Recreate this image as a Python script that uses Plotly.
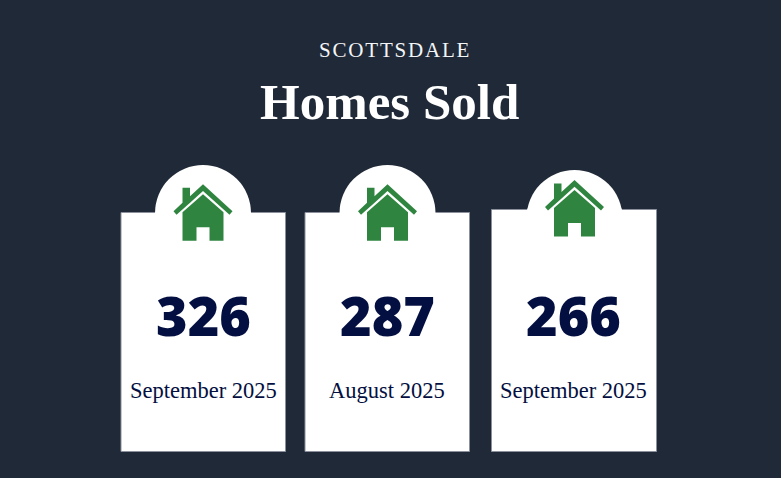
import plotly.graph_objects as go

# Data
city = "SCOTTSDALE"
title = "Homes Sold"
values = ["326", "287", "266"]
periods = ["September 2025", "August 2025", "September 2025"]

# Layout
W, H = 781, 478
BG = "#1f2937"
GREEN = "#2f8540"
NAVY = "#030f40"
cards = [
    dict(x0=121, x1=285.5, top=212.5, bottom=451.5, cx=203, vx=203, vy=314.5, px=203, py=390),
    dict(x0=305, x1=469.5, top=212.5, bottom=451.5, cx=387.5, vx=387.5, vy=314.5, px=386.5, py=390),
    dict(x0=491.5, x1=656.5, top=209.5, bottom=451.5, cx=574.5, vx=573, vy=314.5, px=573, py=390),
]


def house_paths(cx, ay):
    """Icon paths relative to centre x and roof apex y."""
    def P(pts):
        return "M" + " L".join(f"{cx+a:.1f},{ay+b:.1f}" for a, b in pts) + " Z"
    roof = P([(0, 0), (29.5, 27), (26.5, 30.5), (0, 6.7), (-13.5, 19), (-26.5, 30.5), (-29.5, 27), (-20.5, 18.5), (-20.5, 3.5), (-13, 3.5), (-13, 12)])
    body = P([(0, 10), (20.5, 28), (20.5, 56.5), (6.5, 56.5), (6.5, 43), (-6.5, 43), (-6.5, 56.5), (-20.5, 56.5), (-20.5, 28)])
    return [roof, body]


shapes = []
annotations = [
    dict(x=395, y=50, text=city, font=dict(family="Liberation Serif", size=21, color="#f4f5f7")),
    dict(x=389.5, y=102, text=f"<b>{title}</b>", font=dict(family="Liberation Serif", size=51, color="#ffffff")),
]
for c, v, p in zip(cards, values, periods):
    r = 48
    cy = c["top"] + 0.5 + (8 if c["top"] < 212 else 0)
    shapes.append(dict(type="rect", x0=c["x0"], x1=c["x1"], y0=c["top"], y1=c["bottom"],
                       fillcolor="#ffffff", line=dict(color="#8b909c", width=1), layer="above"))
    shapes.append(dict(type="circle", x0=c["cx"] - r, x1=c["cx"] + r, y0=cy - r, y1=cy + r,
                       fillcolor="#ffffff", line=dict(width=0), layer="above"))
    shapes.append(dict(type="rect", x0=c["cx"] - r + 1, x1=c["cx"] + r - 1, y0=c["top"] - 1, y1=c["top"] + 2,
                       fillcolor="#ffffff", line=dict(width=0), layer="above"))
    ay = 184.3 if c["top"] > 212 else 180
    for d in house_paths(c["cx"], ay):
        shapes.append(dict(type="path", path=d, fillcolor=GREEN, line=dict(width=0), layer="above"))
    annotations.append(dict(x=c["vx"], y=c["vy"], text=v,
                            font=dict(family="Noto Sans", size=54, color=NAVY, weight=900)))
    annotations.append(dict(x=c["px"], y=c["py"], text=p,
                            font=dict(family="Liberation Serif", size=22.5, color=NAVY)))

for a in annotations:
    a.update(xref="x", yref="y", showarrow=False, xanchor="center", yanchor="middle")

fig = go.Figure()
fig.update_layout(
    width=W, height=H, margin=dict(l=0, r=0, t=0, b=0),
    paper_bgcolor=BG, plot_bgcolor=BG, showlegend=False,
    xaxis=dict(range=[0, W], visible=False, fixedrange=True),
    yaxis=dict(range=[H, 0], visible=False, fixedrange=True),
    shapes=shapes, annotations=annotations,
)
post = """
document.documentElement.style.background = '%s';
document.body.style.margin = '0';
document.body.style.overflow = 'hidden';
document.querySelectorAll('.annotation-text').forEach(function (t) {
  if (t.textContent === '%s') { t.style.letterSpacing = '1.8px'; }
});
""" % (BG, city)
fig.write_html("out.html", config=dict(displayModeBar=False), post_script=post)
